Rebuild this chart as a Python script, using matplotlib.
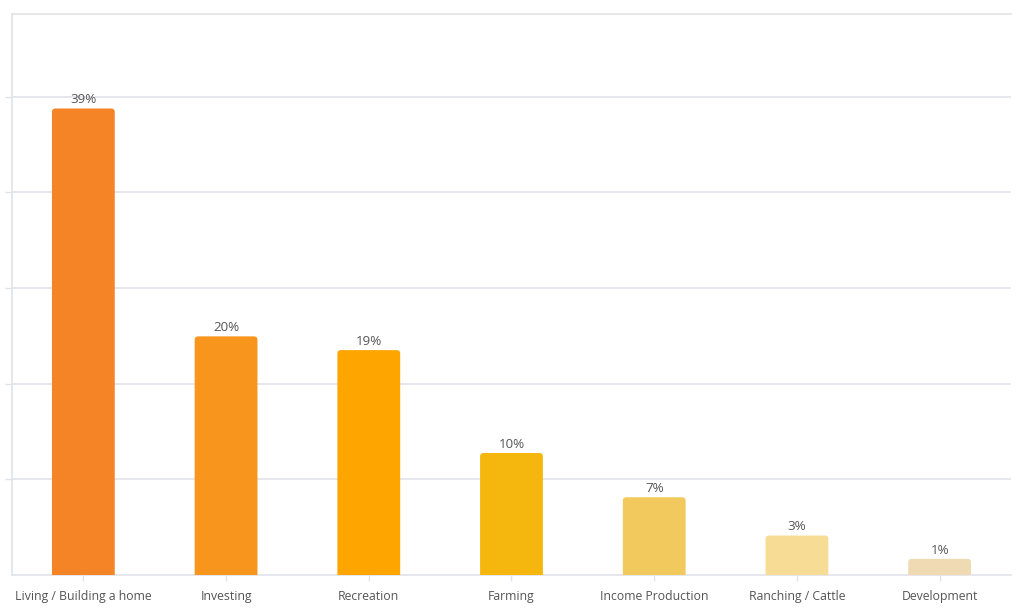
import matplotlib.pyplot as plt
from matplotlib.patches import FancyBboxPatch

# Data
categories = ["Living / Building a home", "Investing", "Recreation", "Farming",
              "Income Production", "Ranching / Cattle", "Development"]
shares = [39.0, 19.95, 18.8, 10.2, 6.5, 3.3, 1.35]
share_labels = ["39%", "20%", "19%", "10%", "7%", "3%", "1%"]
colors = ["#F58426", "#F8951D", "#FFA500", "#F5B70E", "#F2C95C", "#F7DC96", "#EFDAB4"]

plt.rcParams["font.family"] = ["Open Sans", "DejaVu Sans"]

fig = plt.figure(figsize=(10.24, 6.09), dpi=100)
ax = fig.add_axes([12 / 1024, 34 / 609, 999 / 1024, 561 / 609])

grid_col = "#E1E1EA"
text_col = "#555555"

bars = ax.bar(range(len(categories)), shares, width=0.44, color=colors)

ax.set_xlim(-0.5, len(categories) - 0.5)
ax.set_ylim(0, 46.9)

# swap plain rectangles for rounded ones
fig.canvas.draw()
px_x = ax.transData.transform((1, 0))[0] - ax.transData.transform((0, 0))[0]
px_y = ax.transData.transform((0, 1))[1] - ax.transData.transform((0, 0))[1]
aspect = px_x / px_y
r = 3.5 / px_x
for b in bars:
    x0, w, h = b.get_x(), b.get_width(), b.get_height()
    b.set_visible(False)
    p = FancyBboxPatch((x0, -0.5), w, h + 0.5,
                       boxstyle=f"round,pad=0,rounding_size={r}",
                       mutation_aspect=aspect, facecolor=b.get_facecolor(),
                       edgecolor="none", zorder=3)
    ax.add_patch(p)

for i, (v, lab) in enumerate(zip(shares, share_labels)):
    ax.annotate(lab, (i, v), xytext=(0, 1.5), textcoords="offset points",
                ha="center", va="bottom", fontsize=9.6, color=text_col)

ax.set_yticks([8, 16, 24, 32, 40])
ax.set_yticklabels([])
ax.grid(axis="y", color=grid_col, linewidth=1.2)
ax.set_axisbelow(True)

ax.set_xticks(range(len(categories)))
ax.set_xticklabels(categories, fontsize=8.8, color=text_col)

for s in ["top", "left", "bottom"]:
    ax.spines[s].set_color(grid_col)
    ax.spines[s].set_linewidth(1.2)
ax.spines["right"].set_visible(False)
ax.tick_params(axis="y", length=5, color=grid_col, width=1)
ax.tick_params(axis="x", length=4, color=grid_col, width=1, pad=7)

fig.savefig("out.png", dpi=100, facecolor="white")
